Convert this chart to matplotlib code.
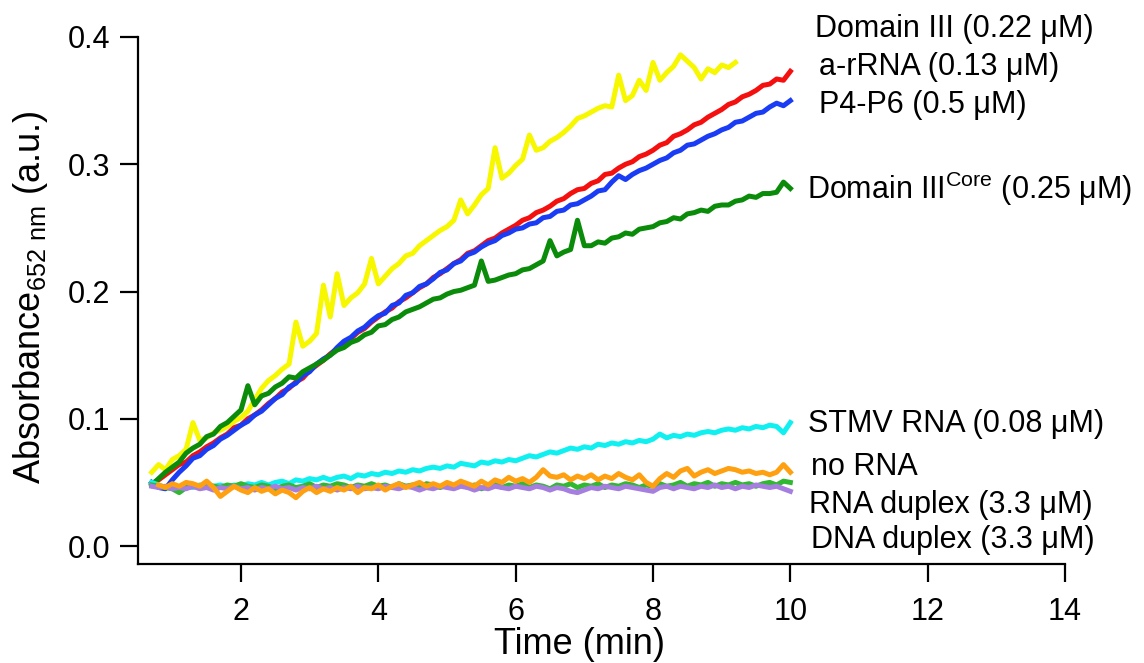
import numpy as np
import matplotlib
matplotlib.use("Agg")
import matplotlib.pyplot as plt

plt.rcParams['font.family'] = ['Liberation Sans', 'DejaVu Sans']
plt.rcParams['mathtext.fontset'] = 'custom'
plt.rcParams['mathtext.rm'] = 'Liberation Sans'
plt.rcParams['mathtext.default'] = 'regular'

# time axis (min), sampled every 0.1 min
time_min = [0.7, 0.8, 0.9, 1.0, 1.1, 1.2, 1.3, 1.4, 1.5, 1.6, 1.7, 1.8, 1.9,
            2.0, 2.1, 2.2, 2.3, 2.4, 2.5, 2.6, 2.7, 2.8, 2.9,
            3.0, 3.1, 3.2, 3.3, 3.4, 3.5, 3.6, 3.7, 3.8, 3.9,
            4.0, 4.1, 4.2, 4.3, 4.4, 4.5, 4.6, 4.7, 4.8, 4.9,
            5.0, 5.1, 5.2, 5.3, 5.4, 5.5, 5.6, 5.7, 5.8, 5.9,
            6.0, 6.1, 6.2, 6.3, 6.4, 6.5, 6.6, 6.7, 6.8, 6.9,
            7.0, 7.1, 7.2, 7.3, 7.4, 7.5, 7.6, 7.7, 7.8, 7.9,
            8.0, 8.1, 8.2, 8.3, 8.4, 8.5, 8.6, 8.7, 8.8, 8.9,
            9.0, 9.1, 9.2, 9.3, 9.4, 9.5, 9.6, 9.7, 9.8, 9.9, 10.0]

# Domain III (0.22 uM), stops at 9.2 min
domain3 = [0.058, 0.064, 0.060, 0.068, 0.071, 0.076, 0.097, 0.083, 0.085, 0.089, 0.091, 0.094, 0.098,
           0.101, 0.106, 0.115, 0.124, 0.130, 0.134, 0.139, 0.143, 0.176, 0.157,
           0.161, 0.167, 0.205, 0.180, 0.214, 0.189, 0.195, 0.199, 0.206, 0.226,
           0.206, 0.212, 0.218, 0.222, 0.228, 0.230, 0.236, 0.240, 0.244, 0.248,
           0.251, 0.256, 0.272, 0.261, 0.268, 0.276, 0.281, 0.313, 0.289, 0.293,
           0.299, 0.304, 0.323, 0.311, 0.313, 0.318, 0.321, 0.325, 0.330, 0.336,
           0.338, 0.341, 0.344, 0.346, 0.345, 0.370, 0.350, 0.354, 0.366, 0.358,
           0.380, 0.366, 0.372, 0.377, 0.386, 0.381, 0.376, 0.367, 0.375, 0.372,
           0.378, 0.376, 0.380]

# a-rRNA (0.13 uM)
arrna = [0.049, 0.052, 0.056, 0.060, 0.064, 0.066, 0.071, 0.074, 0.078, 0.081, 0.085, 0.088, 0.093,
         0.095, 0.100, 0.103, 0.107, 0.112, 0.116, 0.121, 0.124, 0.129, 0.132,
         0.138, 0.142, 0.146, 0.151, 0.155, 0.160, 0.163, 0.168, 0.171, 0.176,
         0.180, 0.184, 0.187, 0.192, 0.195, 0.199, 0.203, 0.206, 0.211, 0.214,
         0.218, 0.222, 0.225, 0.230, 0.232, 0.236, 0.240, 0.242, 0.246, 0.249,
         0.252, 0.256, 0.258, 0.262, 0.264, 0.267, 0.271, 0.273, 0.277, 0.280,
         0.281, 0.285, 0.287, 0.292, 0.293, 0.297, 0.300, 0.302, 0.306, 0.308,
         0.311, 0.315, 0.317, 0.322, 0.324, 0.327, 0.331, 0.333, 0.337, 0.340,
         0.343, 0.347, 0.349, 0.353, 0.355, 0.358, 0.362, 0.363, 0.367, 0.366, 0.373]

# P4-P6 (0.5 uM)
p4p6 = [0.050, 0.046, 0.045, 0.052, 0.058, 0.063, 0.069, 0.071, 0.076, 0.079, 0.084, 0.087, 0.091,
        0.095, 0.098, 0.103, 0.106, 0.111, 0.116, 0.119, 0.125, 0.128, 0.134,
        0.137, 0.143, 0.147, 0.150, 0.156, 0.161, 0.164, 0.169, 0.172, 0.177,
        0.181, 0.183, 0.189, 0.191, 0.197, 0.199, 0.204, 0.206, 0.210, 0.215,
        0.217, 0.222, 0.224, 0.229, 0.231, 0.235, 0.238, 0.240, 0.244, 0.246,
        0.249, 0.250, 0.253, 0.254, 0.258, 0.259, 0.263, 0.264, 0.268, 0.269,
        0.272, 0.275, 0.279, 0.280, 0.286, 0.291, 0.288, 0.292, 0.295, 0.297,
        0.300, 0.303, 0.305, 0.309, 0.311, 0.315, 0.316, 0.319, 0.322, 0.324,
        0.327, 0.329, 0.333, 0.334, 0.337, 0.340, 0.341, 0.345, 0.348, 0.346, 0.350]

# Domain III Core (0.25 uM)
domain3_core = [0.048, 0.053, 0.058, 0.062, 0.066, 0.073, 0.077, 0.080, 0.086, 0.088, 0.094, 0.097, 0.102,
                0.107, 0.126, 0.111, 0.118, 0.120, 0.125, 0.128, 0.133, 0.132, 0.137,
                0.140, 0.143, 0.146, 0.150, 0.154, 0.156, 0.160, 0.162, 0.166, 0.168,
                0.173, 0.174, 0.178, 0.180, 0.184, 0.186, 0.188, 0.191, 0.194, 0.195,
                0.198, 0.200, 0.201, 0.203, 0.205, 0.224, 0.208, 0.209, 0.211, 0.213,
                0.214, 0.217, 0.218, 0.221, 0.224, 0.240, 0.228, 0.231, 0.233, 0.256,
                0.236, 0.236, 0.239, 0.238, 0.242, 0.243, 0.246, 0.245, 0.249, 0.250,
                0.251, 0.254, 0.255, 0.258, 0.257, 0.261, 0.262, 0.264, 0.263, 0.267,
                0.268, 0.268, 0.271, 0.272, 0.275, 0.274, 0.277, 0.277, 0.278, 0.286, 0.281]

# STMV RNA (0.08 uM)
stmv = [0.050, 0.048, 0.046, 0.047, 0.045, 0.047, 0.046, 0.048, 0.046, 0.047, 0.048, 0.046, 0.048,
        0.047, 0.049, 0.048, 0.050, 0.048, 0.050, 0.051, 0.049, 0.052, 0.051,
        0.053, 0.052, 0.054, 0.052, 0.054, 0.055, 0.053, 0.056, 0.055, 0.057,
        0.056, 0.058, 0.057, 0.059, 0.058, 0.060, 0.059, 0.061, 0.062, 0.061,
        0.063, 0.062, 0.065, 0.064, 0.063, 0.066, 0.065, 0.067, 0.066, 0.068,
        0.067, 0.069, 0.071, 0.070, 0.072, 0.074, 0.073, 0.075, 0.077, 0.076,
        0.078, 0.077, 0.080, 0.079, 0.081, 0.080, 0.082, 0.081, 0.083, 0.082,
        0.084, 0.088, 0.085, 0.087, 0.086, 0.088, 0.087, 0.089, 0.090, 0.089,
        0.091, 0.092, 0.091, 0.093, 0.092, 0.094, 0.093, 0.095, 0.094, 0.089, 0.097]

# no RNA, starts at 0.8 min
no_rna = [0.048, 0.046, 0.049, 0.047, 0.050, 0.049, 0.047, 0.051, 0.046, 0.039, 0.043, 0.047,
          0.044, 0.042, 0.046, 0.043, 0.045, 0.041, 0.044, 0.042, 0.038, 0.043,
          0.046, 0.042, 0.045, 0.043, 0.046, 0.044, 0.047, 0.042, 0.046, 0.045,
          0.048, 0.044, 0.047, 0.049, 0.046, 0.048, 0.050, 0.047, 0.049, 0.047,
          0.050, 0.048, 0.051, 0.049, 0.047, 0.051, 0.048, 0.052, 0.050, 0.054,
          0.051, 0.053, 0.050, 0.054, 0.060, 0.055, 0.054, 0.056, 0.052, 0.055,
          0.053, 0.056, 0.052, 0.055, 0.053, 0.057, 0.054, 0.052, 0.056, 0.050,
          0.047, 0.053, 0.057, 0.054, 0.059, 0.061, 0.055, 0.058, 0.060, 0.057,
          0.059, 0.061, 0.060, 0.058, 0.059, 0.057, 0.058, 0.056, 0.058, 0.064, 0.058]

# RNA duplex (3.3 uM)
rna_duplex = [0.048, 0.047, 0.046, 0.045, 0.042, 0.046, 0.047, 0.046, 0.048, 0.047, 0.046, 0.048, 0.047,
              0.049, 0.047, 0.046, 0.048, 0.047, 0.045, 0.047, 0.048, 0.046, 0.047,
              0.049, 0.046, 0.048, 0.047, 0.049, 0.048, 0.046, 0.048, 0.047, 0.049,
              0.047, 0.048, 0.046, 0.049, 0.047, 0.048, 0.046, 0.049, 0.048, 0.046,
              0.048, 0.047, 0.049, 0.046, 0.048, 0.045, 0.047, 0.049, 0.046, 0.048,
              0.047, 0.049, 0.046, 0.048, 0.047, 0.045, 0.048, 0.047, 0.049, 0.046,
              0.048, 0.047, 0.049, 0.046, 0.048, 0.047, 0.049, 0.048, 0.046, 0.048,
              0.047, 0.049, 0.047, 0.048, 0.050, 0.047, 0.049, 0.048, 0.050, 0.047,
              0.049, 0.048, 0.050, 0.048, 0.049, 0.047, 0.049, 0.050, 0.048, 0.051, 0.050]

# DNA duplex (3.3 uM)
dna_duplex = [0.047, 0.046, 0.047, 0.045, 0.046, 0.045, 0.047, 0.045, 0.046, 0.044, 0.046, 0.045, 0.047,
              0.045, 0.046, 0.044, 0.046, 0.045, 0.047, 0.045, 0.046, 0.044, 0.046,
              0.045, 0.047, 0.045, 0.046, 0.044, 0.046, 0.045, 0.047, 0.045, 0.046,
              0.045, 0.047, 0.046, 0.045, 0.047, 0.046, 0.044, 0.046, 0.045, 0.047,
              0.046, 0.045, 0.047, 0.046, 0.044, 0.046, 0.045, 0.047, 0.046, 0.045,
              0.047, 0.046, 0.045, 0.047, 0.046, 0.044, 0.046, 0.045, 0.043, 0.042,
              0.044, 0.046, 0.045, 0.047, 0.046, 0.045, 0.047, 0.046, 0.045, 0.044,
              0.043, 0.046, 0.047, 0.045, 0.047, 0.046, 0.045, 0.047, 0.046, 0.048,
              0.046, 0.047, 0.045, 0.047, 0.046, 0.048, 0.047, 0.046, 0.047, 0.045, 0.043]

labels = ["Domain III (0.22 \u03bcM)", "a-rRNA (0.13 \u03bcM)", "P4-P6 (0.5 \u03bcM)",
          "Domain III$^{Core}$ (0.25 \u03bcM)", "STMV RNA (0.08 \u03bcM)", "no RNA",
          "RNA duplex (3.3 \u03bcM)", "DNA duplex (3.3 \u03bcM)"]
label_x = [10.36, 10.42, 10.42, 10.24, 10.26, 10.30, 10.27, 10.30]
label_y = [0.400, 0.370, 0.340, 0.273, 0.0896, 0.0558, 0.0259, -0.0016]


fig = plt.figure(figsize=(11.44, 6.63), dpi=100)
W, H = 1144, 663
ax = fig.add_axes([138 / W, (H - 564) / H, (1065 - 138) / W, (564 - 37) / H])

t = np.array(time_min)
lw = 3.6
ax.plot(t[:len(domain3)], domain3, color="#f7f700", lw=lw)
ax.plot(t, arrna, color="#f51010", lw=lw)
ax.plot(t, p4p6, color="#1a3cf5", lw=lw)
ax.plot(t, domain3_core, color="#0a8c0a", lw=lw)
ax.plot(t, stmv, color="#10f0f0", lw=lw)
ax.plot(t, rna_duplex, color="#30b830", lw=lw)
ax.plot(t, dna_duplex, color="#a67ee0", lw=lw)
ax.plot(t[1:], no_rna, color="#ffa010", lw=lw)

ax.set_xlim(0.5, 14)
ax.set_ylim(-0.0141, 0.4)
ax.set_xticks([2, 4, 6, 8, 10, 12, 14])
ax.set_yticks([0.0, 0.1, 0.2, 0.3, 0.4])
ax.set_yticklabels(["0.0", "0.1", "0.2", "0.3", "0.4"])

for side in ["top", "right"]:
    ax.spines[side].set_visible(False)
for side in ["left", "bottom"]:
    ax.spines[side].set_linewidth(1.6)
ax.tick_params(axis="both", direction="out", length=13, width=1.6, labelsize=22)
ax.tick_params(axis="y", pad=7)
ax.tick_params(axis="x", pad=11)

for txt, x, y in zip(labels, label_x, label_y):
    ax.text(x, y, txt, fontsize=22, ha="left", va="baseline", clip_on=False)

fig.text(580 / W, (H - 654) / H, "Time (min)", fontsize=26, ha="center", va="baseline")
fig.text(31 / W, (H - 297) / H, "Absorbance$_{652\\ nm}$ (a.u.)", fontsize=26,
         ha="center", va="center", rotation=90)

fig.savefig("out.png", dpi=100)
